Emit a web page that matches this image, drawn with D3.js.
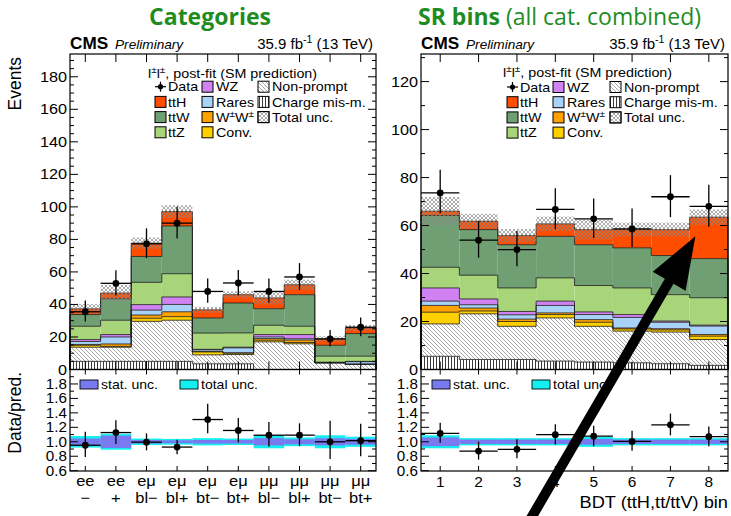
<!DOCTYPE html>
<html><head><meta charset="utf-8">
<script src="https://cdn.jsdelivr.net/npm/d3@7"></script>
<style>body{margin:0;background:#fff}svg{display:block}</style>
</head><body>
<svg id="c" width="731" height="516"></svg>
<script>
// ---------------- data: categories panel ----------------
const catTop = ["ee","ee","eμ","eμ","eμ","eμ","μμ","μμ","μμ","μμ"];
const catBottom = ["−","+","bl−","bl+","bt−","bt+","bl−","bl+","bt−","bt+"];
const catChargeMis = [5.0, 5.0, 5.0, 5.0, 3.5, 3.5, 0, 0, 0, 0];
const catNonPrompt = [8.7, 8.7, 24.6, 25.3, 5.5, 5.7, 17.0, 15.8, 4.1, 3.1];
const catConv      = [1.2, 0.5, 1.9, 2.2, 1.8, 0.8, 1.0, 0.8, 0.0, 0.2];
const catWW        = [0.5, 1.5, 2.0, 3.0, 0.3, 0.3, 1.0, 1.5, 0.0, 0.0];
const catRares     = [1.8, 4.3, 3.0, 4.5, 1.0, 3.0, 1.0, 0.8, 0.3, 1.5];
const catWZ        = [1.2, 1.5, 3.4, 4.6, 0.3, 0.4, 1.5, 2.6, 0.0, 0.2];
const catTTZ       = [8.2, 8.8, 13.7, 14.3, 10.0, 8.8, 5.7, 5.1, 3.8, 3.2];
const catTTW       = [7.2, 13.2, 15.9, 29.4, 9.3, 18.4, 10.2, 19.4, 6.7, 13.9];
const catTTH       = [3.5, 3.5, 8.2, 8.8, 5.0, 5.1, 6.6, 6.1, 3.9, 3.5];
const catData      = [35.5, 53.0, 77.3, 90.0, 48.0, 53.2, 48.0, 56.9, 18.8, 26.0];
const catDataUp    = [7.0, 8.0, 9.5, 10.0, 8.0, 8.0, 8.0, 8.5, 5.5, 6.0];
const catDataDn    = [6.0, 7.5, 8.8, 9.5, 7.0, 7.5, 7.0, 8.0, 4.5, 5.5];
const catTotUnc    = [0.08, 0.11, 0.045, 0.04, 0.05, 0.045, 0.09, 0.06, 0.09, 0.07];
const catStatUnc   = [0.045, 0.085, 0.025, 0.02, 0.025, 0.025, 0.05, 0.035, 0.05, 0.04];

// ---------------- data: SR bins panel ----------------
const srBins = ["1","2","3","4","5","6","7","8"];
const srChargeMis = [5.5, 4.2, 4.2, 3.5, 3.1, 2.8, 2.4, 1.7];
const srNonPrompt = [13.5, 19.0, 13.8, 18.0, 14.9, 13.2, 13.2, 10.8];
const srConv      = [4.9, 1.2, 2.0, 1.4, 1.7, 0.9, 0.9, 1.4];
const srWW        = [2.8, 1.2, 1.0, 0.7, 1.1, 0.4, 0.5, 0.7];
const srRares     = [1.8, 1.4, 1.8, 3.1, 2.1, 4.4, 2.7, 3.5];
const srWZ        = [5.5, 2.4, 1.4, 1.8, 1.1, 1.2, 0.5, 0.4];
const srTTZ       = [8.6, 9.9, 9.8, 9.7, 11.0, 11.1, 11.0, 11.4];
const srTTW       = [21.6, 19.0, 18.0, 17.3, 17.0, 16.7, 16.3, 16.3];
const srTTH       = [1.8, 3.5, 3.8, 5.2, 6.3, 7.6, 10.8, 17.3];
const srData      = [73.6, 53.9, 50.0, 66.7, 62.8, 58.6, 72.0, 68.0];
const srDataUp    = [9.7, 8.0, 7.7, 8.8, 8.5, 8.5, 9.0, 9.0];
const srDataDn    = [8.5, 7.3, 7.0, 8.2, 8.0, 7.5, 8.5, 8.5];
const srTotUnc    = [0.09, 0.05, 0.05, 0.05, 0.07, 0.05, 0.05, 0.05];
const srStatUnc   = [0.06, 0.03, 0.03, 0.03, 0.04, 0.03, 0.03, 0.03];

// legend entries
const legendCol1 = ["Data","ttH","ttW","ttZ"];
const legendCol2 = ["WZ","Rares","W±W±","Conv."];
const legendCol3 = ["Non-prompt","Charge mis-m.","Total unc."];

// ---------------- styling ----------------
const FONT = "'Liberation Sans', Arial, Helvetica, sans-serif";
const GREEN = "#1f8c1f";
const COL = {
  tth:"#ff4d00", ttw:"#6f9f72", ttz:"#a8d57a", wz:"#d182f2",
  rares:"#a8d2f7", ww:"#ffa200", conv:"#ffd000",
  stat:"#7a7af0", tot:"#14f0f0"
};

const svg = d3.select("#c");
const defs = svg.append("defs");

// hatch patterns
function pattern(id, size, paths, stroke, sw, bg){
  const p = defs.append("pattern").attr("id", id).attr("patternUnits","userSpaceOnUse")
    .attr("width", size).attr("height", size);
  if (bg) p.append("rect").attr("width", size).attr("height", size).attr("fill", bg);
  p.append("path").attr("d", paths).attr("stroke", stroke).attr("stroke-width", sw).attr("fill","none");
}
pattern("np", 4, "M-1,3 l2,2 M0,0 l4,4 M3,-1 l2,2", "#6a6a6a", 0.6, "#fff");
pattern("cm", 3, "M1.5,0 V3", "#222", 0.9, "#fff");
pattern("tu", 4, "M-1,3 l2,2 M0,0 l4,4 M3,-1 l2,2 M-1,1 l2,-2 M0,4 l4,-4 M3,5 l2,-2", "#8a8a8a", 0.7, null);

// text helper with horizontal stretch
function text(g, x, y, s, o = {}) {
  const t = g.append("text")
    .attr("transform", `translate(${x},${y}) scale(${o.sx || 1},1)` + (o.rot ? ` rotate(${o.rot})` : ""))
    .attr("font-family", o.family || FONT)
    .attr("font-size", o.size || 13)
    .attr("font-weight", o.weight || "normal")
    .attr("font-style", o.style || "normal")
    .attr("text-anchor", o.anchor || "start")
    .attr("fill", o.fill || "#000");
  if (Array.isArray(s)) {
    s.forEach(part => {
      const ts = t.append("tspan").text(part.t);
      if (part.sup) ts.attr("font-size", (o.size || 13) * 0.7).attr("dy", part.dy || -(o.size || 13) * 0.4);
      if (part.down) ts.attr("dy", part.down);
      if (part.weight) ts.attr("font-weight", part.weight);
    });
  } else t.text(s);
  return t;
}

const yTop = 54, yMid = 369.5, yBot = 471;

function drawPanel(cfg) {
  const g = svg.append("g");
  const n = cfg.data.length;
  const x = d3.scaleLinear().domain([0, n]).range([cfg.x0, cfg.x1]);
  const y = d3.scaleLinear().domain([0, cfg.yMax]).range([yMid, yTop]);
  const yr = d3.scaleLinear().domain([0.6, 2.0]).range([470.7, yMid]);

  const layers = [
    {v: cfg.chargeMis, fill: "url(#cm)"},
    {v: cfg.nonPrompt, fill: "url(#np)"},
    {v: cfg.conv, fill: COL.conv},
    {v: cfg.ww, fill: COL.ww},
    {v: cfg.rares, fill: COL.rares},
    {v: cfg.wz, fill: COL.wz},
    {v: cfg.ttz, fill: COL.ttz},
    {v: cfg.ttw, fill: COL.ttw},
    {v: cfg.tth, fill: COL.tth}
  ];
  // cumulative sums
  let lower = d3.range(n).map(() => 0);
  const stacked = layers.map(L => {
    const upper = lower.map((b, i) => b + L.v[i]);
    const s = {lower, upper, fill: L.fill};
    lower = upper;
    return s;
  });
  const total = lower;

  const plot = g.append("g");
  // filled layers
  stacked.forEach(s => {
    plot.selectAll(null).data(d3.range(n)).join("rect")
      .attr("x", i => x(i)).attr("width", i => x(i + 1) - x(i))
      .attr("y", i => y(s.upper[i])).attr("height", i => Math.max(0, y(s.lower[i]) - y(s.upper[i])))
      .attr("fill", s.fill);
  });
  // histogram outlines
  stacked.forEach(s => {
    let d = `M${x(0)},${y(0)} V${y(s.upper[0])}`;
    for (let i = 0; i < n; i++) {
      d += ` V${y(s.upper[i])} H${x(i + 1)}`;
    }
    d += ` V${y(0)}`;
    plot.append("path").attr("d", d).attr("fill", "none").attr("stroke", "#1a1a1a").attr("stroke-width", 0.8);
  });
  // total uncertainty band
  plot.selectAll(null).data(d3.range(n)).join("rect")
    .attr("x", i => x(i)).attr("width", i => x(i + 1) - x(i))
    .attr("y", i => y(total[i] * (1 + cfg.totUnc[i])))
    .attr("height", i => y(total[i] * (1 - cfg.totUnc[i])) - y(total[i] * (1 + cfg.totUnc[i])))
    .attr("fill", "url(#tu)");

  // data points
  const dg = plot.append("g").attr("stroke", "#000").attr("stroke-width", 1.3);
  d3.range(n).forEach(i => {
    const cx = (x(i) + x(i + 1)) / 2;
    dg.append("line").attr("x1", x(i)).attr("x2", x(i + 1)).attr("y1", y(cfg.data[i])).attr("y2", y(cfg.data[i]));
    dg.append("line").attr("x1", cx).attr("x2", cx)
      .attr("y1", y(cfg.data[i] + cfg.dataUp[i])).attr("y2", y(cfg.data[i] - cfg.dataDn[i]));
    dg.append("circle").attr("cx", cx).attr("cy", y(cfg.data[i])).attr("r", 3.4).attr("fill", "#000").attr("stroke", "none");
  });

  // ratio panel
  const rp = g.append("g");
  d3.range(n).forEach(i => {
    rp.append("rect").attr("x", x(i)).attr("width", x(i + 1) - x(i))
      .attr("y", yr(1 + cfg.totUnc[i])).attr("height", yr(1 - cfg.totUnc[i]) - yr(1 + cfg.totUnc[i]))
      .attr("fill", COL.tot);
  });
  d3.range(n).forEach(i => {
    rp.append("rect").attr("x", x(i)).attr("width", x(i + 1) - x(i))
      .attr("y", yr(1 + cfg.statUnc[i])).attr("height", yr(1 - cfg.statUnc[i]) - yr(1 + cfg.statUnc[i]))
      .attr("fill", COL.stat);
  });
  const rg = rp.append("g").attr("stroke", "#000").attr("stroke-width", 1.3);
  d3.range(n).forEach(i => {
    const cx = (x(i) + x(i + 1)) / 2;
    const r = cfg.data[i] / total[i];
    const ru = (cfg.data[i] + cfg.dataUp[i]) / total[i];
    const rd = (cfg.data[i] - cfg.dataDn[i]) / total[i];
    rg.append("line").attr("x1", x(i)).attr("x2", x(i + 1)).attr("y1", yr(r)).attr("y2", yr(r));
    rg.append("line").attr("x1", cx).attr("x2", cx).attr("y1", yr(ru)).attr("y2", yr(rd));
    rg.append("circle").attr("cx", cx).attr("cy", yr(r)).attr("r", 3.4).attr("fill", "#000").attr("stroke", "none");
  });

  // frames
  const fr = g.append("g").attr("fill", "none").attr("stroke", "#000").attr("stroke-width", 1.2);
  fr.append("rect").attr("x", cfg.x0).attr("y", yTop).attr("width", cfg.x1 - cfg.x0).attr("height", yMid - yTop);
  fr.append("rect").attr("x", cfg.x0).attr("y", yMid).attr("width", cfg.x1 - cfg.x0).attr("height", yBot - yMid);

  // y axis labels (main) from the scale's tick values
  const majY = d3.range(0, cfg.yMax + 0.01, cfg.yMajor);
  const minY = d3.range(0, cfg.yMax + 0.01, cfg.yMinor);
  const fmt = d3.format("d");
  majY.forEach(v => text(g, cfg.x0 - 3, y(v) + 5, fmt(v), {size: 14.5, anchor: "end", sx: 1.12}));

  const tk = g.append("g").attr("stroke", "#000").attr("stroke-width", 1);
  minY.forEach(v => {
    const len = (Math.abs(v / cfg.yMajor - Math.round(v / cfg.yMajor)) < 1e-6) ? 8 : 4;
    if (y(v) < yTop + 0.5) return;
    tk.append("line").attr("x1", cfg.x0).attr("x2", cfg.x0 + len).attr("y1", y(v)).attr("y2", y(v));
    tk.append("line").attr("x1", cfg.x1).attr("x2", cfg.x1 - len).attr("y1", y(v)).attr("y2", y(v));
  });
  // ratio y axis
  const rMaj = [0.6, 0.8, 1.0, 1.2, 1.4, 1.6, 1.8];
  const rMin = d3.range(6, 20).map(v => v / 10);
  rMin.forEach(v => {
    const len = (Math.round(v * 10) % 2 === 0) ? 8 : 4;
    tk.append("line").attr("x1", cfg.x0).attr("x2", cfg.x0 + len).attr("y1", yr(v)).attr("y2", yr(v));
    tk.append("line").attr("x1", cfg.x1).attr("x2", cfg.x1 - len).attr("y1", yr(v)).attr("y2", yr(v));
  });
  rMaj.forEach(v => text(g, cfg.x0 - 3, yr(v) + 5, v.toFixed(1), {size: 14.5, anchor: "end", sx: 1.05}));

  // x ticks at bin centres (top & bottom of both pads)
  d3.range(n).forEach(i => {
    const cx = (x(i) + x(i + 1)) / 2;
    tk.append("line").attr("x1", cx).attr("x2", cx).attr("y1", yTop).attr("y2", yTop + 8);
    tk.append("line").attr("x1", cx).attr("x2", cx).attr("y1", yMid).attr("y2", yMid - 8);
    tk.append("line").attr("x1", cx).attr("x2", cx).attr("y1", yMid).attr("y2", yMid + 5);
    tk.append("line").attr("x1", cx).attr("x2", cx).attr("y1", yBot).attr("y2", yBot - 5);
  });

  // CMS header
  text(g, cfg.x0, yTop - 5, "CMS", {size: 16.5, weight: "bold", sx: 1.04});
  text(g, cfg.x0 + 45, yTop - 5, "Preliminary", {size: 13, style: "italic", sx: 1.05});
  text(g, cfg.x1 - 3, yTop - 5, [{t: "35.9 fb"}, {t: "-1", sup: true, dy: -6}, {t: " (13 TeV)", down: 6}], {size: 15, anchor: "end"});

  // legend
  const lg = g.append("g");
  const L = cfg.leg;
  text(lg, L.hx, L.hy, [{t: "l"}, {t: "±", sup: true, dy: -5}, {t: "l", down: 5}, {t: "±", sup: true, dy: -5}, {t: ", post-fit (SM prediction)", down: 5}], {size: 13, sx: 1.1});
  const rowY = k => L.ry + k * 15.2;
  const box = (bx, k, fill) => lg.append("rect").attr("x", bx).attr("y", rowY(k) - 5.5).attr("width", 11).attr("height", 11)
    .attr("fill", fill).attr("stroke", "#000").attr("stroke-width", 1);
  // data symbol
  lg.append("line").attr("x1", L.c1).attr("x2", L.c1 + 11).attr("y1", rowY(0)).attr("y2", rowY(0)).attr("stroke", "#000").attr("stroke-width", 1.2);
  lg.append("line").attr("x1", L.c1 + 5.5).attr("x2", L.c1 + 5.5).attr("y1", rowY(0) - 5).attr("y2", rowY(0) + 5).attr("stroke", "#000").attr("stroke-width", 1.2);
  lg.append("circle").attr("cx", L.c1 + 5.5).attr("cy", rowY(0)).attr("r", 2.6);
  box(L.c1, 1, COL.tth); box(L.c1, 2, COL.ttw); box(L.c1, 3, COL.ttz);
  box(L.c2, 0, COL.wz); box(L.c2, 1, COL.rares); box(L.c2, 2, COL.ww); box(L.c2, 3, COL.conv);
  box(L.c3, 0, "url(#np)");
  box(L.c3, 1, "url(#cm)");
  box(L.c3, 2, "#fff"); box(L.c3, 2, "url(#tu)");
  const ts = {size: 13, sx: 1.1};
  legendCol1.forEach((s, k) => text(lg, L.c1 + 13, rowY(k) + 4.7, s, ts));
  legendCol2.forEach((s, k) => {
    if (s === "W±W±") text(lg, L.c2 + 14, rowY(k) + 4.7, [{t: "W"}, {t: "±", sup: true, dy: -5}, {t: "W", down: 5}, {t: "±", sup: true, dy: -5}], ts);
    else text(lg, L.c2 + 14, rowY(k) + 4.7, s, ts);
  });
  legendCol3.forEach((s, k) => text(lg, L.c3 + 14, rowY(k) + 4.7, s, ts));

  // ratio legend
  const rl = g.append("g");
  rl.append("rect").attr("x", cfg.x0 + cfg.rl1).attr("y", 380).attr("width", 18).attr("height", 9).attr("fill", COL.stat).attr("stroke", "#000").attr("stroke-width", 0.9);
  text(rl, cfg.x0 + cfg.rl1 + 21, 389, "stat. unc.", {size: 13, sx: 1.08});
  rl.append("rect").attr("x", cfg.x0 + cfg.rl2).attr("y", 380).attr("width", 18).attr("height", 9).attr("fill", COL.tot).attr("stroke", "#000").attr("stroke-width", 0.9);
  text(rl, cfg.x0 + cfg.rl2 + 21, 389, "total unc.", {size: 13, sx: 1.08});

  return {x, y, yr, g};
}

// left panel: categories
const P1 = drawPanel({
  x0: 70, x1: 376, yMax: 194, yMajor: 20, yMinor: 5,
  chargeMis: catChargeMis, nonPrompt: catNonPrompt, conv: catConv, ww: catWW, rares: catRares,
  wz: catWZ, ttz: catTTZ, ttw: catTTW, tth: catTTH,
  data: catData, dataUp: catDataUp, dataDn: catDataDn, totUnc: catTotUnc, statUnc: catStatUnc,
  leg: {hx: 148, hy: 78, ry: 86.7, c1: 155, c2: 202, c3: 258},
  rl1: 10, rl2: 110
});
// right panel: SR bins
const P2 = drawPanel({
  x0: 421, x1: 728, yMax: 131.5, yMajor: 20, yMinor: 10,
  chargeMis: srChargeMis, nonPrompt: srNonPrompt, conv: srConv, ww: srWW, rares: srRares,
  wz: srWZ, ttz: srTTZ, ttw: srTTW, tth: srTTH,
  data: srData, dataUp: srDataUp, dataDn: srDataDn, totUnc: srTotUnc, statUnc: srStatUnc,
  leg: {hx: 503, hy: 77, ry: 87, c1: 507, c2: 553, c3: 610},
  rl1: 11, rl2: 111
});

// x labels: categories (two lines)
catTop.forEach((s, i) => {
  const cx = (P1.x(i) + P1.x(i + 1)) / 2;
  text(svg, cx, 486, s, {size: 15, anchor: "middle", sx: 1.1});
  text(svg, cx, 503, catBottom[i], {size: 15, anchor: "middle", sx: 1.1});
});
// x labels: SR bin numbers
srBins.forEach((s, i) => {
  const cx = (P2.x(i) + P2.x(i + 1)) / 2;
  text(svg, cx, 487, s, {size: 14, anchor: "middle", sx: 1.1});
});
text(svg, 728, 508, "BDT (ttH,tt/ttV) bin", {size: 16, anchor: "end", sx: 1.14});

// y titles
text(svg, 21, 57, "Events", {size: 17.5, anchor: "end", rot: -90});
text(svg, 21, 372, "Data/pred.", {size: 17.5, anchor: "end", rot: -90});

// panel titles
text(svg, 210, 25, "Categories", {size: 23, weight: "bold", anchor: "middle", fill: GREEN, family: "'Open Sans', sans-serif"});
text(svg, 418, 25, [{t: "SR bins", weight: "bold"}, {t: " (all cat. combined)"}], {size: 23, fill: GREEN, family: "'Open Sans', sans-serif"});

// arrow pointing at the ttH contribution in the last SR bin
(function () {
  const tip = [P2.x(7.15), P2.y(55.5)];
  const tail = [tip[0] - 172, tip[1] + 295];
  const dx = tip[0] - tail[0], dy = tip[1] - tail[1];
  const len = Math.hypot(dx, dy);
  const ux = dx / len, uy = dy / len, px = -uy, py = ux;
  const headL = 52, headW = 19, shaftW = 5;
  const bx = tip[0] - ux * headL, by = tip[1] - uy * headL;
  const pts = [
    [tail[0] + px * shaftW, tail[1] + py * shaftW],
    [bx + px * shaftW, by + py * shaftW],
    [bx + px * headW, by + py * headW],
    tip,
    [bx - px * headW, by - py * headW],
    [bx - px * shaftW, by - py * shaftW],
    [tail[0] - px * shaftW, tail[1] - py * shaftW]
  ];
  svg.append("path").attr("d", d3.line()(pts) + "Z").attr("fill", "#000");
})();
</script>
</body></html>
